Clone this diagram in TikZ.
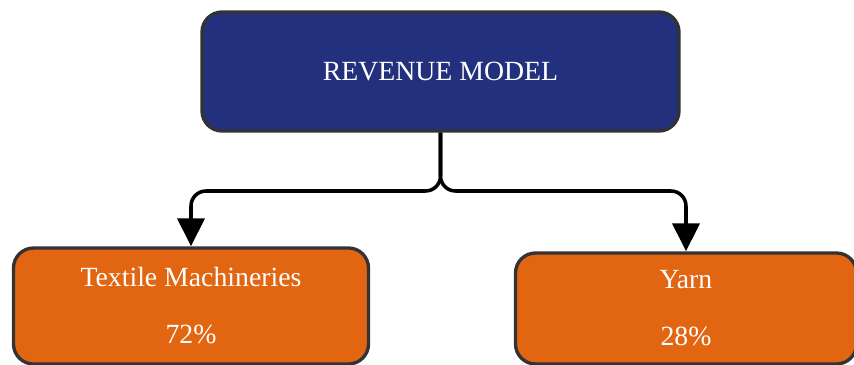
\documentclass[tikz,border=0pt]{standalone}
\usepackage{fontspec}
\setmainfont{Liberation Serif}
\usepackage{tikz}
\usetikzlibrary{arrows.meta}

\definecolor{navybox}{RGB}{34,48,125}
\definecolor{orangebox}{RGB}{226,101,18}
\definecolor{edgegray}{RGB}{51,51,51}

\tikzset{
  modelbox/.style={draw=edgegray, line width=1.9pt, rounded corners=0.4cm,
    text=white, align=center, inner sep=0pt,
    font=\fontsize{15.8}{32.4}\selectfont},
  topbox/.style={modelbox, fill=navybox},
  sharebox/.style={modelbox, fill=orangebox},
  conn/.style={draw=black, line width=2pt, rounded corners=0.3cm,
    -{Triangle[width=0.54cm,length=0.56cm]}}
}

\begin{document}
\begin{tikzpicture}
          \useasboundingbox (0,0) rectangle (17.08,-7.3);
          \node[topbox, minimum width=9.54cm, minimum height=2.38cm] (revenue) at (8.81,-1.43) {REVENUE MODEL};
          \node[sharebox, minimum width=7.1cm, minimum height=2.32cm] (textile) at (3.82,-6.12) {Textile Machineries\\72\%};
          \node[sharebox, minimum width=6.82cm, minimum height=2.22cm] (yarn) at (13.72,-6.17) {Yarn\\28\%};

          % split below the top box
          \coordinate (split) at (8.81,-3.82);
          \draw[conn] (revenue.south) -- (split) -| (textile.north);
          \draw[conn] (revenue.south) -- (split) -| (yarn.north);
        \end{tikzpicture}
\end{document}
